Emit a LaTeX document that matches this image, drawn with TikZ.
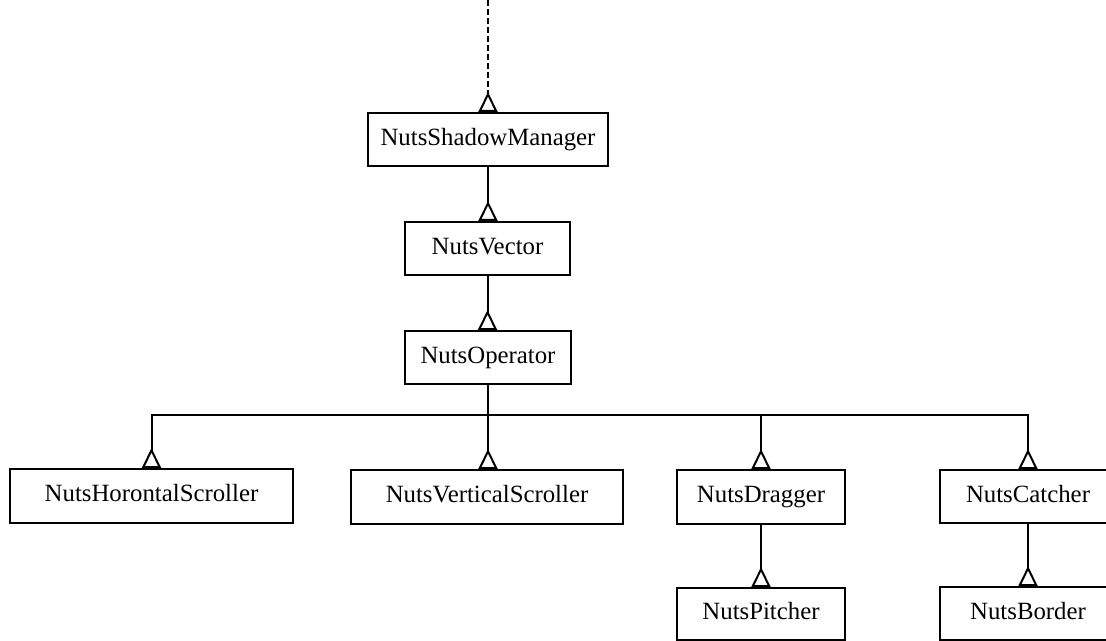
\documentclass[tikz,border=0pt]{standalone}
\usepackage{fontspec}
\setmainfont{Liberation Serif}
\usetikzlibrary{arrows.meta}
\begin{document}
\begin{tikzpicture}[x=0.5pt, y=-0.5pt,
  cls/.style={draw, line width=1pt, inner sep=0pt, minimum height=26.5pt,
    text height=8.6pt, text depth=2.7pt,
    font=\fontsize{12.4pt}{14pt}\selectfont},
  inh/.style={line width=1pt,
    -{Triangle[open, reversed, length=10pt, width=9.5pt, line width=1pt]}}]
\useasboundingbox (0,0) rectangle (1106,641);
\clip (0,0) rectangle (1106,641);

% classes
\node[cls, minimum width=120pt] (sm) at (488,139.5) {NutsShadowManager};
\node[cls, minimum width=82.5pt] (vec) at (487.5,248.5) {NutsVector};
\node[cls, minimum width=83pt] (op) at (488,357.5) {NutsOperator};
\node[cls, minimum width=141.5pt, minimum height=27pt] (hs) at (151.5,496) {NutsHorontalScroller};
\node[cls, minimum width=136pt, minimum height=27pt] (vs) at (487,497) {NutsVerticalScroller};
\node[cls, minimum width=84pt, minimum height=27pt] (dr) at (761,497) {NutsDragger};
\node[cls, minimum width=88pt] (ca) at (1028,496.5) {NutsCatcher};
\node[cls, minimum width=84pt, minimum height=26pt] (pi) at (761,614) {NutsPitcher};
\node[cls, minimum width=88pt] (bo) at (1028,613.5) {NutsBorder};

% inheritance links: open triangle sits on the subclass
\coordinate (top) at (488,0);
\coordinate (bar) at (488,415);
\draw[inh, dash pattern=on 3pt off 1.5pt] (top) -- (sm.north);
\draw[inh] (sm.south) -- (sm.south |- vec.north);
\draw[inh] (vec.south) -- (vec.south |- op.north);
\draw[inh] (op.south) -- (op.south |- vs.north);
\draw[inh] (bar) -| (hs.north);
\draw[inh] (bar) -| (dr.north);
\draw[inh] (bar) -| (ca.north);
\draw[inh] (dr.south) -- (pi.north);
\draw[inh] (ca.south) -- (bo.north);
\end{tikzpicture}
\end{document}
